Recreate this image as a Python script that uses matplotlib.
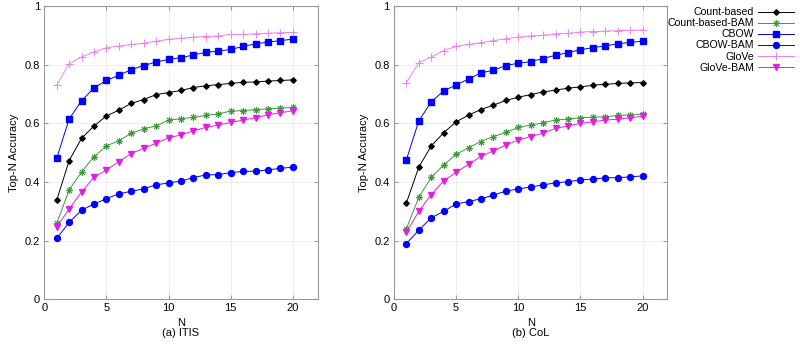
import matplotlib
matplotlib.use("Agg")
import matplotlib.pyplot as plt

plt.rcParams['font.family'] = ['Liberation Sans', 'DejaVu Sans']

N = list(range(1, 21))

labels = ["Count-based", "Count-based-BAM", "CBOW", "CBOW-BAM", "GloVe", "GloVe-BAM"]

# (a) ITIS
itis_count = [0.338, 0.473, 0.549, 0.591, 0.625, 0.645, 0.668, 0.681, 0.698, 0.705,
              0.712, 0.722, 0.728, 0.732, 0.736, 0.740, 0.741, 0.744, 0.746, 0.748]
itis_count_bam = [0.259, 0.373, 0.435, 0.486, 0.523, 0.541, 0.566, 0.581, 0.591, 0.611,
                  0.616, 0.620, 0.627, 0.632, 0.642, 0.643, 0.647, 0.649, 0.652, 0.654]
itis_cbow = [0.481, 0.615, 0.677, 0.721, 0.746, 0.764, 0.783, 0.797, 0.809, 0.818,
             0.824, 0.833, 0.842, 0.846, 0.852, 0.862, 0.871, 0.877, 0.882, 0.887]
itis_cbow_bam = [0.208, 0.262, 0.304, 0.325, 0.343, 0.360, 0.368, 0.377, 0.390, 0.397,
                 0.403, 0.415, 0.424, 0.425, 0.432, 0.436, 0.437, 0.441, 0.447, 0.450]
itis_glove = [0.730, 0.803, 0.826, 0.843, 0.858, 0.863, 0.869, 0.873, 0.880, 0.886,
              0.890, 0.894, 0.896, 0.898, 0.903, 0.903, 0.905, 0.907, 0.909, 0.910]
itis_glove_bam = [0.247, 0.308, 0.366, 0.416, 0.441, 0.469, 0.497, 0.515, 0.532, 0.551,
                  0.560, 0.574, 0.586, 0.594, 0.603, 0.611, 0.619, 0.629, 0.636, 0.643]

# (b) CoL
col_count = [0.329, 0.451, 0.523, 0.568, 0.605, 0.628, 0.647, 0.662, 0.678, 0.689,
             0.698, 0.707, 0.713, 0.720, 0.724, 0.730, 0.733, 0.736, 0.738, 0.739]
col_count_bam = [0.241, 0.348, 0.416, 0.458, 0.494, 0.517, 0.538, 0.555, 0.569, 0.586,
                 0.594, 0.602, 0.611, 0.615, 0.619, 0.621, 0.622, 0.627, 0.629, 0.631]
col_cbow = [0.476, 0.609, 0.673, 0.711, 0.731, 0.751, 0.772, 0.781, 0.797, 0.805,
            0.810, 0.821, 0.832, 0.841, 0.851, 0.858, 0.864, 0.871, 0.876, 0.880]
col_cbow_bam = [0.190, 0.236, 0.278, 0.300, 0.325, 0.333, 0.343, 0.355, 0.369, 0.376,
                0.383, 0.390, 0.397, 0.401, 0.407, 0.410, 0.414, 0.415, 0.417, 0.421]
col_glove = [0.738, 0.807, 0.826, 0.848, 0.862, 0.869, 0.875, 0.882, 0.888, 0.894,
             0.898, 0.900, 0.905, 0.907, 0.911, 0.913, 0.914, 0.916, 0.917, 0.918]
col_glove_bam = [0.229, 0.300, 0.357, 0.404, 0.433, 0.460, 0.487, 0.506, 0.526, 0.543,
                 0.555, 0.566, 0.583, 0.591, 0.600, 0.605, 0.611, 0.614, 0.619, 0.624]

x_ticks = [0, 5, 10, 15, 20]
y_ticks = [0, 0.2, 0.4, 0.6, 0.8, 1]
y_tick_labels = ["0", "0.2", "0.4", "0.6", "0.8", "1"]
subtitles = ["(a) ITIS", "(b) CoL"]

styles = [
    dict(color="black", marker="D", ms=2.8, mfc="black", mec="black"),
    dict(color="#3a9a3a", marker=(8, 2, 0), ms=5, mfc="none", mec="#3a9a3a", mew=0.7),
    dict(color="#0000ff", marker="s", ms=4.3, mfc="#0000ff", mec="#0000ff"),
    dict(color="#0000ff", marker="o", ms=4.3, mfc="#0000ff", mec="#0000ff"),
    dict(color="#ee82ee", marker="+", ms=5.5, mfc="#ee82ee", mec="#ee82ee", mew=0.7),
    dict(color="#e020e0", marker="v", ms=4, mfc="#e020e0", mec="#e020e0"),
]

fig = plt.figure(figsize=(8, 3.5), dpi=100)
ax1 = fig.add_axes([44.3 / 800, 1 - 299.3 / 350, 273.4 / 800, 293.3 / 350])
ax2 = fig.add_axes([394 / 800, 1 - 299.3 / 350, 273.4 / 800, 293.3 / 350])

datasets = [
    [itis_count, itis_count_bam, itis_cbow, itis_cbow_bam, itis_glove, itis_glove_bam],
    [col_count, col_count_bam, col_cbow, col_cbow_bam, col_glove, col_glove_bam],
]

handles = []
for ax, data, sub in zip([ax1, ax2], datasets, subtitles):
    for i, (ys, st) in enumerate(zip(data, styles)):
        h, = ax.plot(N, ys, lw=0.7, zorder=3, label=labels[i], **st)
        if ax is ax1:
            handles.append(h)
    ax.set_xlim(0, 22)
    ax.set_ylim(0, 1)
    ax.set_xticks(x_ticks)
    ax.set_yticks(y_ticks)
    ax.set_yticklabels(y_tick_labels)
    ax.grid(True, color="#ebebeb", lw=0.6)
    ax.set_axisbelow(True)
    for s in ax.spines.values():
        s.set_color("#999999")
        s.set_linewidth(0.8)
    ax.tick_params(direction="in", top=True, right=True, length=3, color="#999999",
                   labelsize=8, pad=3)
    ax.set_xlabel("N\n" + sub, fontsize=8, linespacing=1.0, labelpad=3)
    ax.set_ylabel("Top-N Accuracy", fontsize=8, labelpad=4)

leg = fig.legend(handles=handles, labels=labels, loc="upper right",
                 bbox_to_anchor=(1.0, 1 - 1 / 350), frameon=False,
                 markerfirst=False, fontsize=7.6, handlelength=3.4,
                 labelspacing=0.1, handletextpad=0.35, borderaxespad=0.2)

fig.savefig("out.png", dpi=100)
